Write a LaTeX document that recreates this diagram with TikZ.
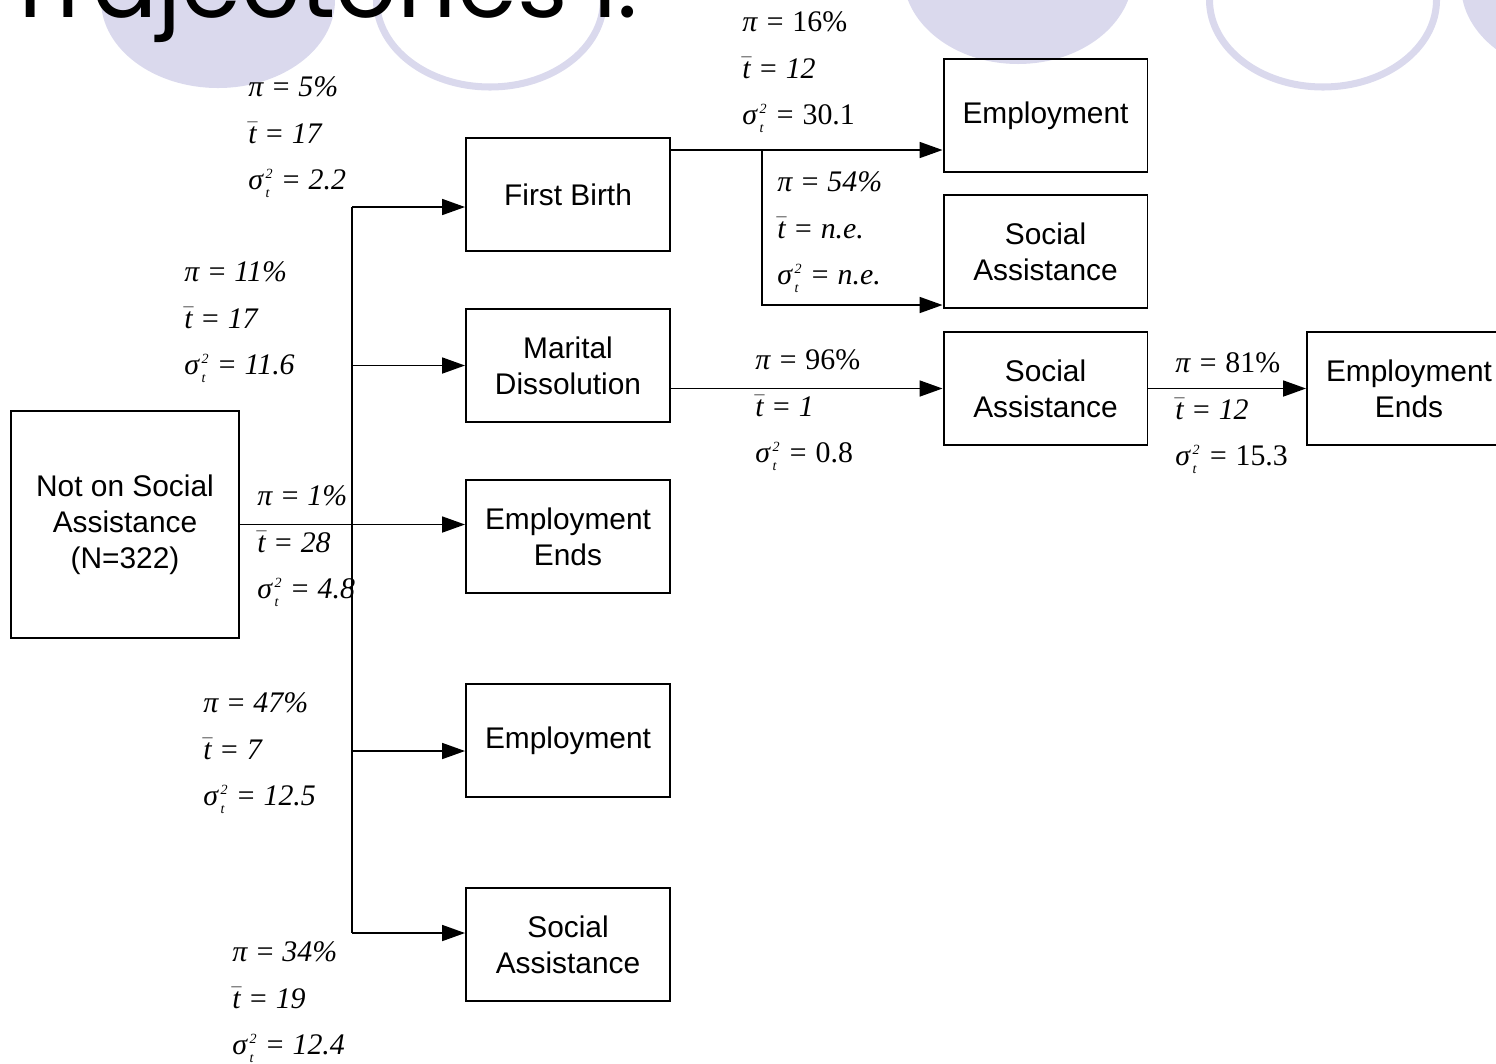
\documentclass[tikz,border=0pt]{standalone}
\usepackage{fontspec}
\setsansfont{Liberation Sans}
\newfontfamily\labfont{Liberation Serif}
\newfontfamily\ttlfont{Poppins}
\usetikzlibrary{arrows.meta}
\definecolor{lav}{RGB}{218,217,237}
\newcommand{\tbar}{$\bar{\mbox{\itshape t}}$}
\newcommand{\sig}{${\mbox{\itshape σ}\mkern1.5mu}^{\mbox{\fontsize{8}{8}\selectfont 2}}_{\mbox{\fontsize{8}{8}\selectfont\itshape t}}$}
\newcommand{\trio}[3]{π = #1\\\tbar{} = #2\\\sig{} = #3}

\begin{document}
\begin{tikzpicture}[x=0.02cm,y=-0.02cm,
  box/.style={draw,rectangle,line width=1.1pt,minimum width=4.08cm,minimum height=2.26cm,align=center,inner sep=0pt,font=\sffamily\fontsize{17}{20.5}\selectfont},
  lab/.style={anchor=west,align=left,inner sep=0pt,font=\labfont\itshape\fontsize{17}{26.6}\selectfont},
  arr/.style={line width=1.1pt,-{Triangle[length=13pt,width=9pt]}},
  ring/.style={draw=lav,line width=4pt}]
        \useasboundingbox (0,0) rectangle (1496,1063);
        \clip (0,0) rectangle (1496,1063);
        \fill[lav] (218,0) ellipse [x radius=117, y radius=88];
        \draw[ring] (490,0) ellipse [x radius=113.5, y radius=87];
        \fill[lav] (1018,-26) ellipse [x radius=115, y radius=90];
        \draw[ring] (1323,0) ellipse [x radius=113.5, y radius=87];
        \fill[lav] (1578,-15) ellipse [x radius=117, y radius=90];
        \node[anchor=base west,inner sep=0pt,font=\ttlfont\fontsize{55}{55}\selectfont] (ttl) at (4,17) {Trajectories I.};

        \node[box,minimum width=4.56cm,minimum height=4.54cm] (root) at (125,524.5) {Not on Social\\Assistance\\(N=322)};
        \node[box] (fb) at (568,194.5) {First Birth};
        \node[box] (md) at (568,365.5) {Marital\\Dissolution};
        \node[box] (ee) at (568,536.5) {Employment\\Ends};
        \node[box] (em) at (568,740.5) {Employment};
        \node[box] (sa) at (568,944.5) {Social\\Assistance};
        \node[box] (em2) at (1045.5,115.5) {Employment};
        \node[box] (sa2) at (1045.5,251.5) {Social\\Assistance};
        \node[box] (sa3) at (1045.5,388.5) {Social\\Assistance};
        \node[box] (ee2) at (1409,388.5) {Employment\\Ends};

        \coordinate (top) at (352,207);
        \coordinate (bot) at (352,933);
        \coordinate (j4) at (352,751);
        \coordinate (k1) at (762,150);
        \coordinate (k2) at (762,305);
        \draw[line width=1.1pt] (top) -- (bot);
        \draw[arr] (root.east) -- (root.east -| ee.west);
        \draw[arr] (top) -- (top -| fb.west);
        \draw[arr] (top |- md.west) -- (md.west);
        \draw[arr] (j4) -- (j4 -| em.west);
        \draw[arr] (bot) -- (bot -| sa.west);
        \draw[arr] (fb.east |- k1) -- (k1 -| em2.west);
        \draw[arr] (k1) -- (k2) -- (k2 -| sa2.west);
        \draw[arr] (md.east |- sa3.west) -- (sa3.west);
        \draw[arr] (sa3.east) -- (ee2.west);

        \node[lab] (l1) at (248,137) {\trio{5\%}{17}{2.2}};
        \node[lab] (l2) at (184,322) {\trio{11\%}{17}{11.6}};
        \node[lab] (l3) at (257,546) {\trio{1\%}{28}{4.8}};
        \node[lab] (l4) at (203,753) {\trio{47\%}{7}{12.5}};
        \node[lab] (l5) at (232,1002) {\trio{34\%}{19}{12.4}};
        \node[lab] (l6) at (742,72) {\trio{\textup{16\%}}{12}{\textup{30.1}}};
        \node[lab] (l7) at (777,232) {\trio{54\%}{n.e.}{n.e.}};
        \node[lab] (l8) at (755,410) {\trio{\textup{96\%}}{1}{\textup{0.8}}};
        \node[lab] (l9) at (1175,413) {\trio{\textup{81\%}}{12}{\textup{15.3}}};
\end{tikzpicture}
\end{document}
